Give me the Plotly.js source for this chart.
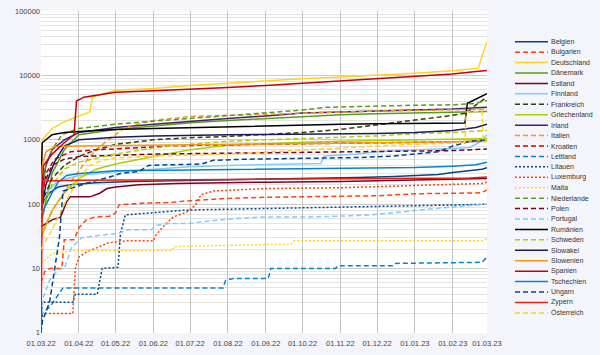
<!DOCTYPE html>
<html><head><meta charset="utf-8">
<script src="https://cdn.plot.ly/plotly-3.0.1.min.js"></script>
<style>html,body{margin:0;padding:0;background:#f3f5fa;}#chart{width:600px;height:355px;}</style>
</head><body><div id="chart"></div>
<script>
const countries = ['Belgien','Bulgarien','Deutschland','Dänemark','Estland','Finnland','Frankreich','Griechenland','Irland','Italien','Kroatien','Lettland','Litauen','Luxemburg','Malta','Niederlande','Polen','Portugal','Rumänien','Schweden','Slowakei','Slowenien','Spanien','Tschechien','Ungarn','Zypern','Österreich'];
const colors = ['#004586','#ff420e','#ffd320','#579d1c','#7e0021','#83caff','#314004','#aecf00','#4b1f6f','#ff950e','#c5000b','#0084d1','#004586','#ff420e','#ffd320','#579d1c','#7e0021','#83caff','#000000','#aecf00','#1f1a5e','#ff950e','#c5000b','#0084d1','#004586','#ee1c0e','#ffd320'];
const styles = ['solid','dash','solid','solid','solid','solid','dash','solid','solid','dash','dash','dash','dot','dot','dot','dash','dash','dash','solid','dash','solid','solid','solid','solid','dash','solid','dash'];

const datesBelgien = ['2022-03-01','2022-03-03','2022-03-08','2022-03-15','2022-03-25','2022-04-15','2022-05-15','2022-06-15','2022-07-15','2022-08-15','2022-09-15','2022-10-15','2022-11-15','2022-12-15','2023-01-01','2023-01-20','2023-02-01','2023-02-15','2023-02-25','2023-03-01'];
const valuesBelgien = [80,110,150,185,200,215,225,230,235,240,245,250,260,270,280,290,310,330,350,370];
const datesBulgarien = ['2022-03-01','2022-03-04','2022-03-08','2022-03-18','2022-03-20','2022-03-28','2022-04-01','2022-04-07','2022-04-14','2022-04-26','2022-05-01','2022-05-04','2022-05-25','2022-06-15','2022-06-27','2022-07-10','2022-08-01','2022-09-01','2022-10-01','2022-11-01','2022-12-01','2023-01-01','2023-02-01','2023-02-24','2023-03-01'];
const valuesBulgarien = [6,9,10,10,28,28,43,57,63,65,73,98,104,106,112,117,123,128,130,132,135,145,148,150,165];
const datesDeutschland = ['2022-03-01','2022-03-02','2022-03-10','2022-03-20','2022-03-31','2022-04-10','2022-04-12','2022-05-01','2022-06-01','2022-07-01','2022-08-01','2022-09-01','2022-10-01','2022-11-01','2022-12-01','2023-01-01','2023-02-01','2023-02-22','2023-02-25','2023-03-01'];
const valuesDeutschland = [300,1000,1500,1900,2300,2700,4600,5900,6300,7000,7600,8300,8900,9500,10000,10800,11800,13000,20000,33000];
const datesDaenemark = ['2022-03-01','2022-03-10','2022-03-20','2022-04-01','2022-05-01','2022-06-01','2022-07-01','2022-08-01','2022-09-01','2022-10-01','2022-11-01','2022-12-01','2023-01-01','2023-02-01','2023-03-01'];
const valuesDaenemark = [50,300,700,1200,1450,1650,1850,2000,2150,2300,2450,2550,2600,2650,2750];
const datesEstland = ['2022-03-01','2022-03-05','2022-03-10','2022-03-17','2022-03-22','2022-03-25','2022-04-10','2022-04-18','2022-04-24','2022-05-01','2022-05-20','2022-06-20','2022-07-20','2022-09-01','2022-11-01','2023-01-01','2023-03-01'];
const valuesEstland = [45,50,57,63,110,130,130,148,175,185,200,210,215,220,225,235,250];
const datesFinnland = ['2022-03-01','2022-03-05','2022-03-15','2022-04-01','2022-05-01','2022-06-01','2022-07-01','2022-08-01','2022-09-01','2022-10-01','2022-10-16','2022-10-19','2022-11-15','2022-12-01','2023-01-01','2023-02-01','2023-02-15','2023-02-22','2023-03-01'];
const valuesFinnland = [100,150,230,280,320,350,380,400,410,420,430,560,600,650,700,730,760,900,1200];
const datesFrankreich = ['2022-03-01','2022-03-10','2022-03-20','2022-04-01','2022-04-15','2022-05-01','2022-06-01','2022-07-01','2022-08-01','2022-09-01','2022-10-01','2022-11-01','2022-12-01','2023-01-01','2023-02-01','2023-02-12','2023-02-20','2023-03-01'];
const valuesFrankreich = [100,250,400,550,700,850,1000,1080,1130,1200,1300,1450,1700,2000,2400,2600,3500,4600];
const datesGriechenland = ['2022-03-01','2022-03-10','2022-03-20','2022-04-01','2022-04-15','2022-05-01','2022-06-01','2022-07-01','2022-08-01','2022-09-01','2022-10-01','2022-11-01','2022-12-01','2023-01-01','2023-02-01','2023-03-01'];
const valuesGriechenland = [30,80,150,250,350,420,550,700,820,880,920,950,980,1000,1020,1050];
const datesIrland = ['2022-03-01','2022-03-05','2022-03-10','2022-03-20','2022-04-01','2022-05-01','2022-06-01','2022-07-01','2022-08-01','2022-09-01','2022-10-01','2022-11-01','2022-12-01','2023-01-01','2023-02-01','2023-03-01'];
const valuesIrland = [150,400,700,1000,1300,1550,1750,1950,2150,2350,2600,2700,2800,2900,3000,3200];
const datesItalien = ['2022-03-01','2022-03-05','2022-03-12','2022-03-20','2022-03-28','2022-04-08','2022-04-15','2022-04-25','2022-05-10','2022-06-01','2022-07-01','2022-08-01','2022-09-01','2022-10-01','2022-11-01','2022-12-01','2023-01-01','2023-02-01','2023-03-01'];
const valuesItalien = [30,50,90,150,260,500,700,1000,1600,2000,2300,2400,2500,2600,2700,2800,2850,2900,3000];
const datesKroatien = ['2022-03-01','2022-03-05','2022-03-12','2022-03-25','2022-04-15','2022-05-15','2022-06-15','2022-07-15','2022-09-01','2022-10-15','2022-12-01','2023-01-15','2023-03-01'];
const valuesKroatien = [100,300,500,650,700,750,800,830,860,880,900,920,950];
const datesLettland = ['2022-03-01','2022-03-02','2022-03-08','2022-03-14','2022-03-19','2022-07-28','2022-07-30','2022-08-05','2022-09-03','2022-09-05','2022-10-28','2022-10-30','2022-12-14','2022-12-16','2023-02-25','2023-03-01'];
const valuesLettland = [1,2,2.5,3.6,5,5,6.5,7,7,10,10,11,11,12,12.5,15];
const datesLitauen = ['2022-03-01','2022-03-02','2022-03-27','2022-03-29','2022-04-16','2022-04-20','2022-05-03','2022-05-05','2022-05-09','2022-06-03','2022-06-24','2022-07-10','2022-08-15','2022-11-01','2023-02-01','2023-03-01'];
const valuesLitauen = [1,3,3,4,4,10,10.5,35,68,75,80,82,85,90,97,100];
const datesLuxemburg = ['2022-03-01','2022-03-27','2022-03-29','2022-04-01','2022-04-07','2022-04-15','2022-04-25','2022-05-10','2022-06-01','2022-06-03','2022-06-10','2022-06-17','2022-06-28','2022-07-05','2022-07-10','2022-07-20','2022-09-01','2022-11-01','2022-12-15','2023-02-01','2023-02-25','2023-03-01'];
const valuesLuxemburg = [2,2,10,15,18,21,25,27,27,33,47,63,75,95,140,160,175,180,190,200,210,220];
const datesMalta = ['2022-03-01','2022-03-10','2022-03-27','2022-06-16','2022-06-18','2022-08-25','2022-09-22','2022-09-24','2023-02-25','2023-03-01'];
const valuesMalta = [12,17,19,19,22,23,24,27,27,29];
const datesNiederlande = ['2022-03-01','2022-03-05','2022-03-10','2022-03-18','2022-04-01','2022-05-01','2022-06-01','2022-07-01','2022-08-01','2022-09-01','2022-10-01','2022-10-20','2022-11-15','2022-12-01','2023-01-01','2023-02-01','2023-02-20','2023-03-01'];
const valuesNiederlande = [150,400,700,1200,1500,1750,1950,2150,2350,2600,2900,3200,3300,3400,3450,3500,3700,4100];
const datesPolen = ['2022-03-01','2022-03-03','2022-03-10','2022-03-20','2022-04-01','2022-05-01','2022-06-01','2022-07-01','2022-08-01','2022-09-01','2022-10-01','2022-11-01','2022-12-01','2023-01-01','2023-02-01','2023-03-01'];
const valuesPolen = [60,200,400,500,550,580,600,610,620,620,630,640,650,660,680,720];
const datesPortugal = ['2022-03-01','2022-03-03','2022-03-08','2022-03-15','2022-03-20','2022-03-26','2022-04-03','2022-04-08','2022-04-19','2022-05-03','2022-05-11','2022-05-30','2022-06-04','2022-06-13','2022-06-29','2022-07-09','2022-08-03','2022-08-28','2022-10-01','2022-11-10','2022-11-26','2022-12-13','2023-01-15','2023-03-01'];
const valuesPortugal = [1.5,3.6,6.6,9.6,10,21,30,31,33,35,40,40,47,50,50,53,59,63,63,66,68,73,85,100];
const datesRumaenien = ['2022-03-01','2022-03-02','2022-03-10','2022-03-20','2022-04-01','2022-05-01','2022-06-01','2022-07-01','2022-08-01','2022-09-01','2022-10-01','2022-11-01','2022-12-01','2023-01-01','2023-02-01','2023-02-11','2023-02-13','2023-02-20','2023-03-01'];
const valuesRumaenien = [200,900,1200,1300,1350,1450,1500,1550,1600,1650,1700,1750,1780,1800,1800,1820,3700,4300,5200];
const datesSchweden = ['2022-03-01','2022-03-10','2022-03-20','2022-04-01','2022-05-01','2022-06-01','2022-07-01','2022-08-01','2022-09-01','2022-10-01','2022-11-01','2022-12-01','2023-01-01','2023-02-01','2023-03-01'];
const valuesSchweden = [80,200,350,450,600,750,850,950,1000,1050,1100,1150,1250,1300,1400];
const datesSlowakei = ['2022-03-01','2022-03-05','2022-03-12','2022-03-20','2022-04-01','2022-05-01','2022-06-01','2022-07-01','2022-08-01','2022-09-01','2022-10-01','2022-11-01','2022-12-01','2023-01-01','2023-02-01','2023-02-20','2023-03-01'];
const valuesSlowakei = [80,200,450,800,1000,1100,1150,1180,1200,1210,1220,1230,1250,1300,1400,1550,1750];
const datesSlowenien = ['2022-03-01','2022-03-02','2022-03-05','2022-03-12','2022-04-01','2022-06-01','2022-08-01','2022-10-01','2022-12-01','2023-02-01','2023-03-01'];
const valuesSlowenien = [100,400,650,780,800,820,840,870,900,930,970];
const datesSpanien = ['2022-03-01','2022-03-03','2022-03-10','2022-03-20','2022-03-28','2022-03-30','2022-04-05','2022-05-01','2022-06-01','2022-07-01','2022-08-01','2022-09-01','2022-10-01','2022-11-01','2022-12-01','2023-01-01','2023-02-01','2023-02-20','2023-03-01'];
const valuesSpanien = [100,400,600,900,1200,4000,4600,5500,5800,6100,6500,7000,7600,8200,9000,9600,10500,11500,12000];
const datesTschechien = ['2022-03-01','2022-03-04','2022-03-10','2022-03-15','2022-03-22','2022-04-01','2022-05-01','2022-06-01','2022-07-01','2022-08-01','2022-09-01','2022-10-01','2022-11-01','2022-12-01','2023-01-01','2023-02-01','2023-02-20','2023-03-01'];
const valuesTschechien = [60,90,150,220,280,300,330,335,340,340,345,350,355,360,370,390,410,450];
const datesUngarn = ['2022-03-01','2022-03-02','2022-03-08','2022-03-12','2022-03-16','2022-03-19','2022-04-10','2022-04-25','2022-05-05','2022-05-20','2022-05-28','2022-06-15','2022-07-10','2022-07-20','2022-08-15','2022-09-15','2022-10-15','2022-11-15','2022-12-15','2023-01-01','2023-01-20','2023-02-01','2023-02-15','2023-03-01'];
const valuesUngarn = [1,1.5,3,10,30,160,220,260,300,320,400,410,420,480,500,510,520,530,560,600,650,800,950,1000];
const datesZypern = ['2022-03-01','2022-03-02','2022-03-04','2022-04-01','2022-07-01','2022-10-01','2023-01-01','2023-02-15','2023-03-01'];
const valuesZypern = [1,150,230,235,240,245,250,255,265];
const datesOesterreich = ['2022-03-01','2022-03-10','2022-03-20','2022-04-01','2022-04-10','2022-04-20','2022-05-01','2022-06-01','2022-07-01','2022-08-01','2022-09-01','2022-10-01','2022-11-01','2022-12-01','2023-01-01','2023-02-01','2023-02-11','2023-02-12','2023-02-25','2023-02-26','2023-03-01'];
const valuesOesterreich = [20,40,100,250,400,480,520,560,580,600,650,700,750,800,850,880,900,2700,2800,920,950];

const xTickFormat = '%d.%m.%y';

const allDates = [datesBelgien,datesBulgarien,datesDeutschland,datesDaenemark,datesEstland,datesFinnland,datesFrankreich,datesGriechenland,datesIrland,datesItalien,datesKroatien,datesLettland,datesLitauen,datesLuxemburg,datesMalta,datesNiederlande,datesPolen,datesPortugal,datesRumaenien,datesSchweden,datesSlowakei,datesSlowenien,datesSpanien,datesTschechien,datesUngarn,datesZypern,datesOesterreich];
const allValues = [valuesBelgien,valuesBulgarien,valuesDeutschland,valuesDaenemark,valuesEstland,valuesFinnland,valuesFrankreich,valuesGriechenland,valuesIrland,valuesItalien,valuesKroatien,valuesLettland,valuesLitauen,valuesLuxemburg,valuesMalta,valuesNiederlande,valuesPolen,valuesPortugal,valuesRumaenien,valuesSchweden,valuesSlowakei,valuesSlowenien,valuesSpanien,valuesTschechien,valuesUngarn,valuesZypern,valuesOesterreich];

const dashMap = {solid:'solid', dash:'5px,3px', dot:'2px,2px'};

const traces = countries.map((name, i) => ({
  type: 'scatter', mode: 'lines', name: name,
  x: allDates[i], y: allValues[i],
  line: {color: colors[i], width: 1.5, dash: dashMap[styles[i]]},
  showlegend: false, hoverinfo: 'skip'
}));

const W = 600, H = 355;
const M = {l: 41, r: 113, t: 11, b: 22};
const pw = W - M.l - M.r, ph = H - M.t - M.b;
const px2x = p => (p - M.l) / pw;
const py2y = p => (H - M.b - p) / ph;

const shapes = [], annotations = [];
countries.forEach((name, i) => {
  const yPx = 41.7 + i * 10.43;
  shapes.push({type: 'line', xref: 'paper', yref: 'paper',
    x0: px2x(515), x1: px2x(548), y0: py2y(yPx), y1: py2y(yPx),
    line: {color: colors[i], width: 1.5, dash: dashMap[styles[i]]}});
  annotations.push({xref: 'paper', yref: 'paper', x: px2x(550), y: py2y(yPx),
    xanchor: 'left', yanchor: 'middle', showarrow: false, text: name,
    font: {size: 7, color: '#333', family: 'Liberation Sans, Arial, sans-serif'}, borderpad: 0});
});

const layout = {
  width: W, height: H,
  margin: M,
  paper_bgcolor: '#f3f5fa', plot_bgcolor: '#ffffff',
  font: {family: 'Liberation Sans, Arial, sans-serif', size: 7.5, color: '#444'},
  showlegend: false,
  xaxis: {type: 'date', range: ['2022-02-28 23:00', '2023-03-01 01:00'],
    tick0: '2022-03-01', dtick: 'M1', tickformat: xTickFormat,
    showgrid: true, gridcolor: '#c4c4c4', gridwidth: 1, zeroline: false, showline: false,
    ticks: '', ticklabelstandoff: 4, tickfont: {size: 7.5, color: '#444'}, fixedrange: true},
  yaxis: {type: 'log', range: [-0.002, 5.002], dtick: 1, exponentformat: 'none',
    tickformat: 'd',
    showgrid: true, gridcolor: '#cacaca', gridwidth: 1, zeroline: false, showline: false,
    ticks: '', tickfont: {size: 7.5, color: '#444'},
    minor: {dtick: 'D1', showgrid: true, gridcolor: '#e4e4e4', gridwidth: 1, ticks: ''}, fixedrange: true},
  shapes: shapes,
  annotations: annotations
};

Plotly.newPlot('chart', traces, layout, {staticPlot: true, displayModeBar: false});
</script>
</body></html>
